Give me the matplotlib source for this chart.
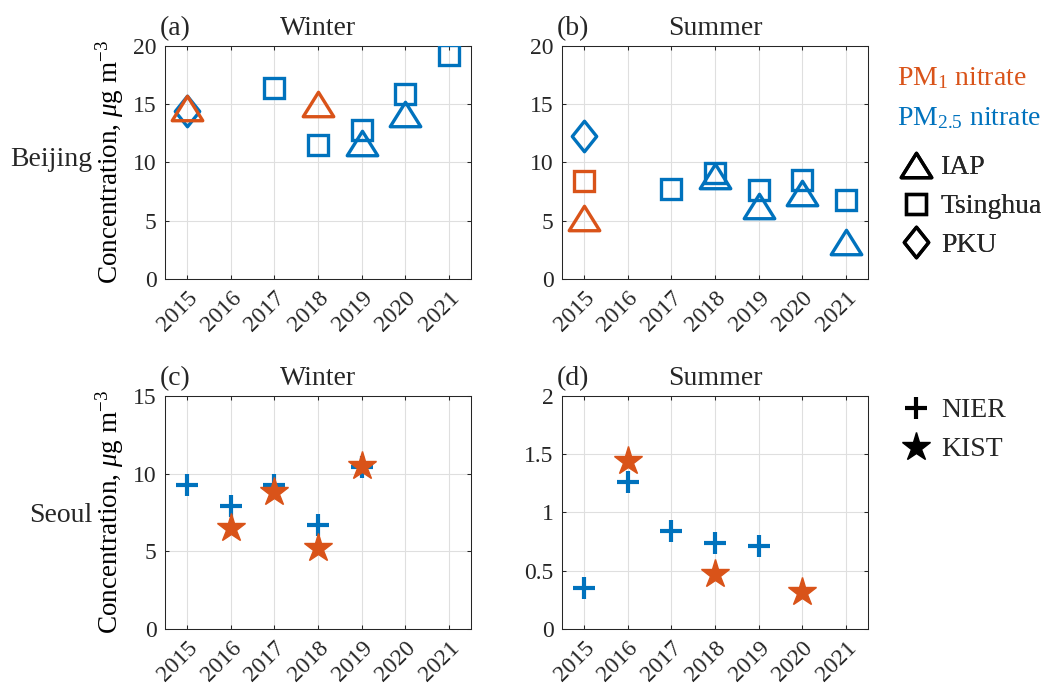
import matplotlib.pyplot as plt
import matplotlib.transforms as mtransforms
from matplotlib.lines import Line2D
from matplotlib.path import Path
from matplotlib.ticker import FormatStrFormatter

FS = 20       # titles, labels, key text
TICK_FS = 17  # tick labels

plt.rcParams["font.family"] = ["Liberation Serif", "DejaVu Serif"]
plt.rcParams["mathtext.fontset"] = "custom"
plt.rcParams["mathtext.rm"] = "Liberation Serif"
plt.rcParams["mathtext.it"] = "Liberation Serif:italic"
plt.rcParams["font.size"] = FS
plt.rcParams["text.color"] = "#262626"

# ---- data ----
years = [2015, 2016, 2017, 2018, 2019, 2020, 2021]

# Beijing winter
bjw_iap_year = [2015, 2018, 2019, 2020]
bjw_iap_val = [14.7, 15.0, 11.7, 14.2]
bjw_iap_pm = ["PM1", "PM1", "PM2.5", "PM2.5"]
bjw_tsing_year = [2017, 2018, 2019, 2020, 2021]
bjw_tsing_val = [16.4, 11.5, 12.8, 15.9, 19.2]
bjw_tsing_pm = ["PM2.5", "PM2.5", "PM2.5", "PM2.5", "PM2.5"]
bjw_pku_year = [2015]
bjw_pku_val = [14.4]
bjw_pku_pm = ["PM2.5"]

# Beijing summer
bjs_iap_year = [2015, 2018, 2019, 2020, 2021]
bjs_iap_val = [5.2, 8.8, 6.3, 7.4, 3.2]
bjs_iap_pm = ["PM1", "PM2.5", "PM2.5", "PM2.5", "PM2.5"]
bjs_tsing_year = [2015, 2017, 2018, 2019, 2020, 2021]
bjs_tsing_val = [8.4, 7.7, 9.1, 7.6, 8.5, 6.8]
bjs_tsing_pm = ["PM1", "PM2.5", "PM2.5", "PM2.5", "PM2.5", "PM2.5"]
bjs_pku_year = [2015]
bjs_pku_val = [12.3]
bjs_pku_pm = ["PM2.5"]

# Seoul winter
sew_nier_year = [2015, 2016, 2017, 2018, 2019]
sew_nier_val = [9.3, 7.9, 9.3, 6.7, 10.4]
sew_kist_year = [2016, 2017, 2018, 2019]
sew_kist_val = [6.5, 8.8, 5.2, 10.5]

# Seoul summer
ses_nier_year = [2015, 2016, 2017, 2018, 2019]
ses_nier_val = [0.35, 1.26, 0.84, 0.74, 0.71]
ses_kist_year = [2016, 2018, 2020]
ses_kist_val = [1.44, 0.47, 0.32]

BLUE = "#0072BD"
ORANGE = "#D95319"
PM_COLOR = {"PM1": ORANGE, "PM2.5": BLUE}

# MATLAB-like marker shapes (wide triangle, tall diamond)
TRI = Path([(-1, -0.8), (1, -0.8), (0, 0.8), (-1, -0.8)], closed=True)
DIAM = Path([(0, 1), (0.8, 0), (0, -1), (-0.8, 0), (0, 1)], closed=True)

STYLE = {
    "IAP": dict(marker=TRI, ms=22, mew=2.4, mfc="none"),
    "Tsinghua": dict(marker="s", ms=14, mew=2.4, mfc="none"),
    "PKU": dict(marker=DIAM, ms=22, mew=2.4, mfc="none"),
    "NIER": dict(marker="+", ms=16, mew=3),
    "KIST": dict(marker="*", ms=21, mew=1),
}


def plot_site(ax, x, y, pm, site):
    for xi, yi, p in zip(x, y, pm):
        c = PM_COLOR[p]
        kw = dict(STYLE[site])
        if kw.get("mfc") != "none":
            kw["mfc"] = c
        ax.plot([xi], [yi], ls="none", color=c, mec=c, zorder=3, **kw)


def style_axes(ax, ymax, ystep, tag, title):
    ax.set_xlim(2014.5, 2021.5)
    ax.set_ylim(0, ymax)
    n = int(round(ymax / ystep))
    ax.set_yticks([i * ystep for i in range(n + 1)])
    ax.yaxis.set_major_formatter(FormatStrFormatter("%g"))
    ax.set_xticks(years)
    ax.set_xticklabels([str(y) for y in years], rotation=45, ha="right",
                       va="top", rotation_mode="anchor")
    off = mtransforms.ScaledTranslation(12 / 100, -4 / 100,
                                        ax.figure.dpi_scale_trans)
    for lab in ax.get_xticklabels():
        lab.set_transform(lab.get_transform() + off)
    ax.tick_params(direction="in", length=3, width=0.75, top=True, right=True,
                   colors="#262626", labelsize=TICK_FS, pad=6)
    ax.grid(True, color="#DFDFDF", lw=0.8)
    ax.set_axisbelow(True)
    for s in ax.spines.values():
        s.set_linewidth(0.75)
        s.set_color("#262626")
    ax.set_title(title, fontsize=FS, pad=8)
    ax.text(-0.018, 1.0 + 11 / 233, tag, transform=ax.transAxes,
            ha="left", va="baseline", fontsize=FS)


fig = plt.figure(figsize=(10.51, 6.90), dpi=100)
w, h = 0.291, 0.3377
ax_a = fig.add_axes([0.157, 0.5957, w, h])
ax_b = fig.add_axes([0.5347, 0.5957, w, h])
ax_c = fig.add_axes([0.157, 0.0884, w, h])
ax_d = fig.add_axes([0.5347, 0.0884, w, h])

plot_site(ax_a, bjw_pku_year, bjw_pku_val, bjw_pku_pm, "PKU")
plot_site(ax_a, bjw_tsing_year, bjw_tsing_val, bjw_tsing_pm, "Tsinghua")
plot_site(ax_a, bjw_iap_year, bjw_iap_val, bjw_iap_pm, "IAP")

plot_site(ax_b, bjs_pku_year, bjs_pku_val, bjs_pku_pm, "PKU")
plot_site(ax_b, bjs_tsing_year, bjs_tsing_val, bjs_tsing_pm, "Tsinghua")
plot_site(ax_b, bjs_iap_year, bjs_iap_val, bjs_iap_pm, "IAP")

plot_site(ax_c, sew_nier_year, sew_nier_val, ["PM2.5"] * len(sew_nier_val), "NIER")
plot_site(ax_c, sew_kist_year, sew_kist_val, ["PM1"] * len(sew_kist_val), "KIST")

plot_site(ax_d, ses_nier_year, ses_nier_val, ["PM2.5"] * len(ses_nier_val), "NIER")
plot_site(ax_d, ses_kist_year, ses_kist_val, ["PM1"] * len(ses_kist_val), "KIST")

style_axes(ax_a, 20, 5, "(a)", "Winter")
style_axes(ax_b, 20, 5, "(b)", "Summer")
style_axes(ax_c, 15, 5, "(c)", "Winter")
style_axes(ax_d, 2, 0.5, "(d)", "Summer")

ylab = "Concentration, $\\mu$g m$^{-3}$"
for ax in (ax_a, ax_c):
    ax.set_ylabel(ylab, fontsize=19.5)
    ax.yaxis.set_label_coords(-0.127, 0.5)

fig.text(92 / 1051, 1 - 160 / 690, "Beijing", ha="right", va="center", fontsize=FS)
fig.text(92 / 1051, 1 - 515 / 690, "Seoul", ha="right", va="center", fontsize=FS)

# size-fraction colour key
fig.text(897 / 1051, 1 - 85 / 690, "PM$_1$ nitrate", color=ORANGE,
         ha="left", va="baseline", fontsize=FS)
fig.text(897 / 1051, 1 - 125 / 690, "PM$_{2.5}$ nitrate", color=BLUE,
         ha="left", va="baseline", fontsize=FS)


def key(sites):
    handles = []
    for s in sites:
        kw = dict(STYLE[s])
        if kw.get("mfc") != "none":
            kw["mfc"] = "k"
        handles.append(Line2D([], [], ls="none", color="k", mec="k", **kw))
    return handles


leg1 = fig.legend(key(["IAP", "Tsinghua", "PKU"]), ["IAP", "Tsinghua", "PKU"],
                  loc="upper left", bbox_to_anchor=(902 / 1051, 1 - 155 / 690),
                  frameon=False, borderpad=0, borderaxespad=0, handlelength=1.0,
                  handletextpad=0.4, labelspacing=0.48, fontsize=FS)
fig.add_artist(leg1)
fig.legend(key(["NIER", "KIST"]), ["NIER", "KIST"],
           loc="upper left", bbox_to_anchor=(902 / 1051, 1 - 398 / 690),
           frameon=False, borderpad=0, borderaxespad=0, handlelength=1.0,
           handletextpad=0.4, labelspacing=0.48, fontsize=FS)

fig.savefig("out.png", dpi=100)
